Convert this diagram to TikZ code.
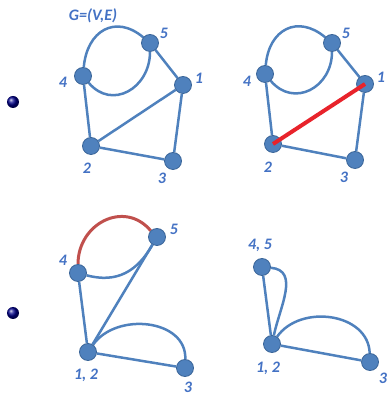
\documentclass[tikz,border=0pt]{standalone}
\usepackage{fontspec}
\setmainfont{Carlito}
\usepackage{tikz}
\usetikzlibrary{shadings,backgrounds}
\definecolor{vblue}{HTML}{4F81BD}
\definecolor{vdark}{HTML}{3B6699}
\definecolor{lblue}{HTML}{4472C4}
\definecolor{ered}{HTML}{E8232B}
\definecolor{arcred}{HTML}{C0504D}

\begin{document}
\begin{tikzpicture}[
  x=1pt, y=1pt,
  vert/.style={circle, fill=vblue, draw=vdark, line width=0.8pt,
               minimum size=17pt, inner sep=0pt},
  edge/.style={draw=vblue, line width=2.5pt},
  hotedge/.style={draw=ered, line width=4pt},
  hotarc/.style={draw=arcred, line width=3pt},
  vlabel/.style={font=\fontsize{16}{16}\selectfont\bfseries\itshape, text=lblue},
  bullet/.style={circle, ball color=blue!55!black, minimum size=12pt, inner sep=0pt}
]
  \useasboundingbox (0,0) rectangle (388,395);

  % Bullets
  \node[bullet] (b1) at (13,293) {};
  \node[bullet] (b2) at (13,82) {};

  % Top left: the graph G
  \node[vlabel] (title) at (93,379) {G=(V,E)};
  \node[vert] (a5) at (150,352) {};
  \node[vert] (a4) at (83,319) {};
  \node[vert] (a1) at (183,310) {};
  \node[vert] (a2) at (91,249) {};
  \node[vert] (a3) at (173,234) {};
  \node[vlabel] (la5) at (164,362) {5};
  \node[vlabel] (la4) at (63,313) {4};
  \node[vlabel] (la1) at (199,317) {1};
  \node[vlabel] (la2) at (87,227) {2};
  \node[vlabel] (la3) at (162,217) {3};
  \begin{scope}[on background layer]
  \draw[edge] (a4) to[out=85,in=140,looseness=1.4] (a5);
  \draw[edge] (a4) to[out=-50,in=-90,looseness=1.35] (a5);
  \draw[edge] (a5) -- (a1);
  \draw[edge] (a4) -- (a2);
  \draw[edge] (a2) -- (a1);
  \draw[edge] (a2) -- (a3);
  \draw[edge] (a1) -- (a3);
  \end{scope}

  % Top right: edge (1,2) chosen
  \node[vert] (c5) at (332,352) {};
  \node[vert] (c4) at (265,321) {};
  \node[vert] (c1) at (365,311) {};
  \node[vert] (c2) at (273,251) {};
  \node[vert] (c3) at (355,235) {};
  \node[vlabel] (lc5) at (346,362) {5};
  \node[vlabel] (lc4) at (247,314) {4};
  \node[vlabel] (lc1) at (381,318) {1};
  \node[vlabel] (lc2) at (268,228) {2};
  \node[vlabel] (lc3) at (344,218) {3};
  \begin{scope}[on background layer]
  \draw[edge] (c4) to[out=85,in=140,looseness=1.4] (c5);
  \draw[edge] (c4) to[out=-50,in=-90,looseness=1.35] (c5);
  \draw[edge] (c5) -- (c1);
  \draw[edge] (c4) -- (c2);
  \draw[edge] (c2) -- (c3);
  \draw[edge] (c1) -- (c3);
  \end{scope}
  \draw[hotedge] (c2.center) -- (c1.center);

  % Bottom left: 1 and 2 merged
  \node[vert] (d5) at (157,158) {};
  \node[vert] (d4) at (78,122) {};
  \node[vert] (d12) at (88,43) {};
  \node[vert] (d3) at (185,27) {};
  \node[vlabel] (ld5) at (174,166) {5};
  \node[vlabel] (ld4) at (63,135) {4};
  \node[vlabel] (ld12) at (86,20) {1, 2};
  \node[vlabel] (ld3) at (188,8) {3};
  \begin{scope}[on background layer]
  \draw[hotarc] (d4.north) to[out=90,in=130,looseness=1.3] (d5.north west);
  \draw[edge] (d4) to[out=-15,in=-120,looseness=1.1] (d5);
  \draw[edge] (d4) -- (d12);
  \draw[edge] (d12) -- (d5);
  \draw[edge] (d12) -- (d3);
  \draw[edge] (d12) to[out=55,in=88,looseness=1.1] (d3);
  \end{scope}

  % Bottom right: 4 and 5 merged
  \node[vert] (e45) at (262,128) {};
  \node[vert] (e12) at (272,51) {};
  \node[vert] (e3) at (370,33) {};
  \node[vlabel] (le45) at (260,150) {4, 5};
  \node[vlabel] (le12) at (268,27) {1, 2};
  \node[vlabel] (le3) at (383,17) {3};
  \begin{scope}[on background layer]
  \draw[edge] (e45) -- (e12);
  \draw[edge] (e45) to[out=-5,in=78,looseness=1.1] (e12);
  \draw[edge] (e12) -- (e3);
  \draw[edge] (e12) to[out=55,in=92,looseness=1.1] (e3);
  \end{scope}
\end{tikzpicture}
\end{document}
